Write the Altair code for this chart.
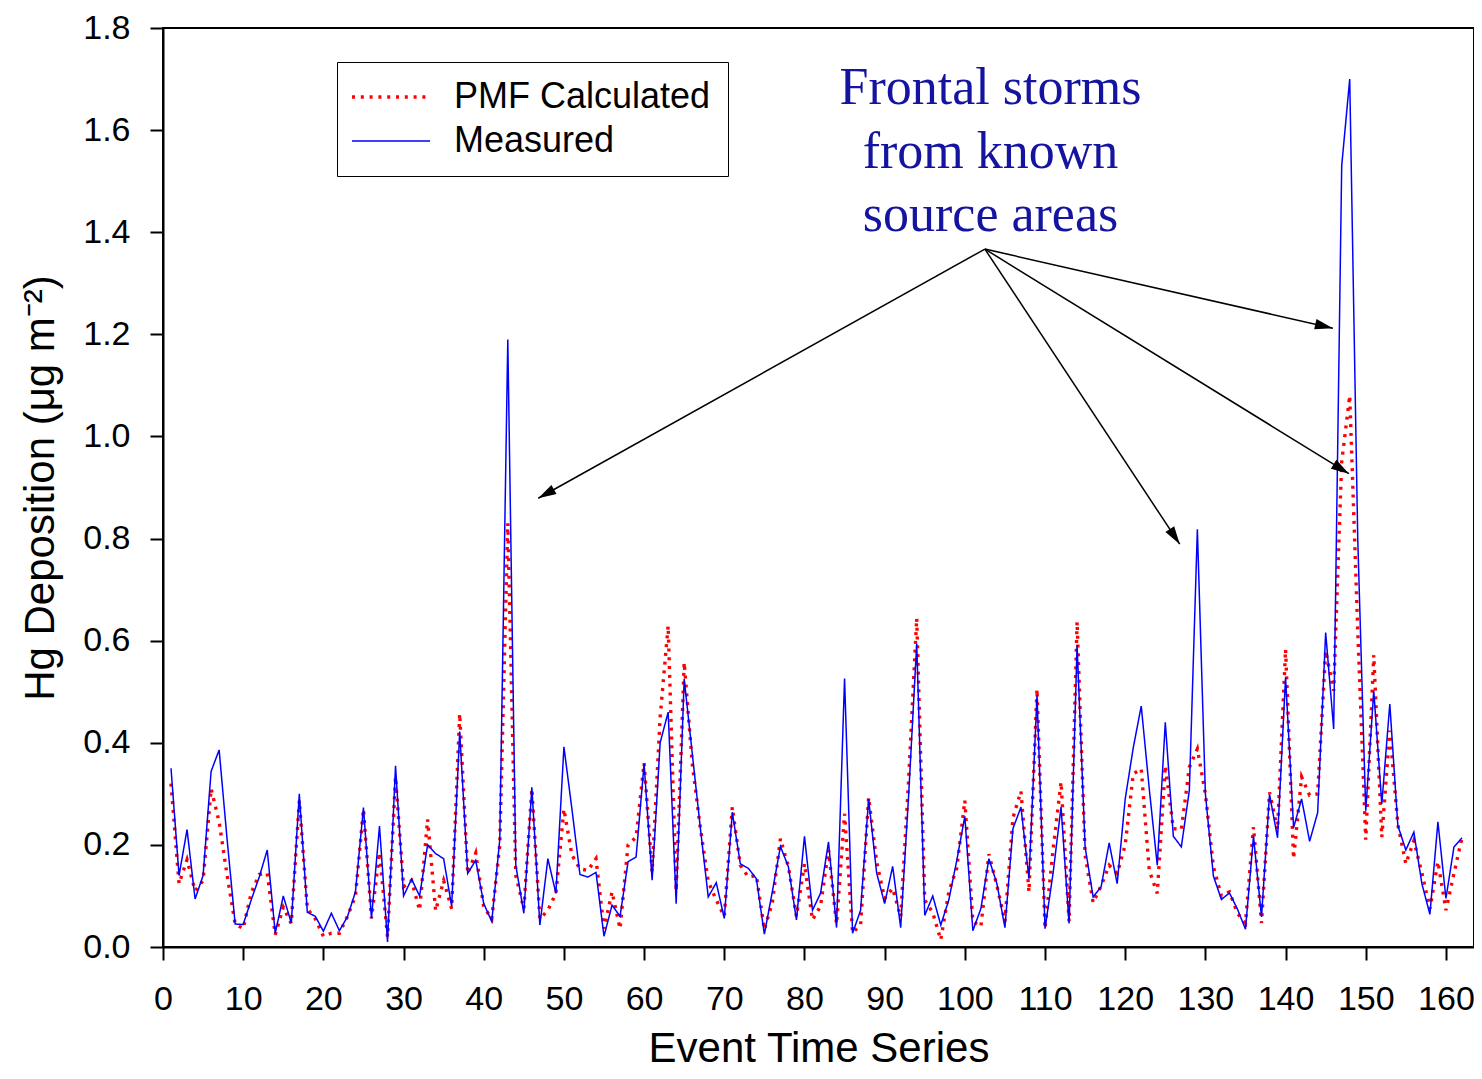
import math
import altair as alt
import pandas as pd

# ---------------- data ----------------
events = list(range(1, 163))

measured = [
    0.35, 0.14, 0.23, 0.094, 0.14, 0.344, 0.386, 0.21, 0.045, 0.044,
    0.092, 0.137, 0.19, 0.027, 0.10, 0.047, 0.30, 0.068, 0.06, 0.031,
    0.066, 0.032, 0.059, 0.108, 0.273, 0.056, 0.237, 0.01, 0.355, 0.10,
    0.133, 0.10, 0.20, 0.183, 0.173, 0.08, 0.422, 0.144, 0.17, 0.085,
    0.05, 0.21, 1.19, 0.16, 0.066, 0.313, 0.043, 0.173, 0.105, 0.392,
    0.27, 0.142, 0.137, 0.146, 0.021, 0.082, 0.06, 0.167, 0.176, 0.359,
    0.131, 0.40, 0.46, 0.085, 0.525, 0.38, 0.235, 0.098, 0.126, 0.056,
    0.264, 0.163, 0.154, 0.134, 0.025, 0.109, 0.197, 0.157, 0.053, 0.217,
    0.072, 0.105, 0.206, 0.038, 0.526, 0.027, 0.072, 0.29, 0.145, 0.085,
    0.158, 0.038, 0.30, 0.594, 0.062, 0.10, 0.043, 0.092, 0.17, 0.256,
    0.032, 0.075, 0.173, 0.124, 0.038, 0.232, 0.274, 0.134, 0.493, 0.036,
    0.144, 0.274, 0.046, 0.591, 0.196, 0.098, 0.118, 0.204, 0.124, 0.29,
    0.39, 0.472, 0.31, 0.16, 0.44, 0.217, 0.196, 0.307, 0.818, 0.30,
    0.139, 0.093, 0.106, 0.074, 0.035, 0.217, 0.059, 0.299, 0.214, 0.528,
    0.234, 0.29, 0.207, 0.263, 0.616, 0.427, 1.53, 1.70, 0.80, 0.267,
    0.502, 0.28, 0.476, 0.238, 0.19, 0.225, 0.124, 0.064, 0.245, 0.095,
    0.196, 0.214,
]

pmf = [
    0.32, 0.124, 0.171, 0.11, 0.13, 0.31, 0.245, 0.14, 0.045, 0.036,
    0.106, 0.142, 0.145, 0.024, 0.078, 0.046, 0.287, 0.075, 0.055, 0.021,
    0.027, 0.027, 0.06, 0.10, 0.27, 0.056, 0.185, 0.02, 0.333, 0.118,
    0.13, 0.072, 0.25, 0.071, 0.13, 0.075, 0.457, 0.144, 0.184, 0.079,
    0.055, 0.20, 0.83, 0.14, 0.075, 0.31, 0.055, 0.072, 0.105, 0.27,
    0.18, 0.153, 0.15, 0.173, 0.036, 0.108, 0.036, 0.20, 0.215, 0.36,
    0.147, 0.45, 0.629, 0.11, 0.557, 0.36, 0.235, 0.128, 0.092, 0.06,
    0.274, 0.16, 0.137, 0.14, 0.034, 0.088, 0.212, 0.157, 0.06, 0.163,
    0.053, 0.08, 0.19, 0.045, 0.261, 0.028, 0.043, 0.293, 0.167, 0.095,
    0.115, 0.059, 0.33, 0.644, 0.092, 0.067, 0.014, 0.108, 0.155, 0.287,
    0.05, 0.04, 0.182, 0.12, 0.05, 0.253, 0.305, 0.108, 0.505, 0.036,
    0.19, 0.323, 0.05, 0.637, 0.18, 0.087, 0.12, 0.16, 0.144, 0.20,
    0.339, 0.349, 0.15, 0.105, 0.355, 0.232, 0.23, 0.352, 0.388, 0.30,
    0.157, 0.10, 0.108, 0.066, 0.047, 0.235, 0.047, 0.303, 0.23, 0.583,
    0.173, 0.333, 0.297, 0.30, 0.58, 0.502, 0.95, 1.08, 0.62, 0.21,
    0.572, 0.215, 0.424, 0.24, 0.163, 0.208, 0.145, 0.075, 0.167, 0.072,
    0.144, 0.214,
]

series_names = ["PMF Calculated", "Measured"]
x_ticks = list(range(0, 161, 10))
y_ticks = [0.0, 0.2, 0.4, 0.6, 0.8, 1.0, 1.2, 1.4, 1.6, 1.8]
annot_lines = ["Frontal storms", "from known", "source areas"]

# annotation geometry (data units)
annot_x = 103.2
annot_y = [1.652, 1.526, 1.402]
arrow_src = (102.5, 1.367)
arrow_targets = [(46.8, 0.879), (145.9, 1.212), (126.8, 0.789), (147.9, 0.927)]

# ---------------- layout ----------------
W, H = 1311, 919
X_MAX, Y_MAX = 163.5, 1.8
px_x = W / X_MAX
px_y = H / Y_MAX
FONT = "Liberation Sans"

xscale = alt.Scale(domain=[0, X_MAX], nice=False, zero=False)
yscale = alt.Scale(domain=[0, Y_MAX], nice=False)
xaxis = alt.Axis(values=x_ticks, title="Event Time Series", labelFlush=False,
                 labelPadding=22, titlePadding=12)
yaxis = alt.Axis(values=y_ticks, format=".1f", labelFlush=False,
                 title="Hg Deposition (μg m⁻²)",
                 labelPadding=20, titlePadding=20)

df = pd.DataFrame({
    "event": events + events,
    "value": pmf + measured,
    "series": [series_names[0]] * len(events) + [series_names[1]] * len(events),
})

legend = alt.Legend(
    title=None, orient="none", legendX=174, legendY=34,
    symbolType="M-2,0H5.8", symbolSize=400, symbolOffset=0,
    labelFontSize=36, labelFont=FONT, labelColor="black", labelOffset=64,
    labelLimit=0, padding=17, rowPadding=8,
    strokeColor="black", fillColor="white",
)

lines = alt.Chart(df).mark_line().encode(
    x=alt.X("event:Q", scale=xscale, axis=xaxis),
    y=alt.Y("value:Q", scale=yscale, axis=yaxis),
    color=alt.Color("series:N", sort=series_names,
                    scale=alt.Scale(domain=series_names, range=["#ff0000", "#0000ff"]),
                    legend=legend),
    strokeDash=alt.StrokeDash("series:N", sort=series_names,
                              scale=alt.Scale(domain=series_names, range=[[3, 5.8], [1, 0]]),
                              legend=legend),
    strokeWidth=alt.StrokeWidth("series:N", sort=series_names,
                                scale=alt.Scale(domain=series_names, range=[3.4, 1.5]),
                                legend=legend),
)

text_df = pd.DataFrame({"x": [annot_x] * 3, "y": annot_y, "text": annot_lines})
texts = alt.Chart(text_df).mark_text(
    font="Liberation Serif", fontSize=52, color="#1414a0",
    align="center", baseline="alphabetic",
).encode(
    x=alt.X("x:Q", scale=xscale, axis=xaxis),
    y=alt.Y("y:Q", scale=yscale, axis=yaxis),
    text="text:N",
)

rows = []
for tx, ty in arrow_targets:
    dx = (tx - arrow_src[0]) * px_x
    dy = -(ty - arrow_src[1]) * px_y
    ang = math.degrees(math.atan2(dx, -dy)) % 360
    rows.append({"x": arrow_src[0], "y": arrow_src[1], "x2": tx, "y2": ty, "angle": ang})
arrow_df = pd.DataFrame(rows)

rules = alt.Chart(arrow_df).mark_rule(color="black", strokeWidth=1.5).encode(
    x=alt.X("x:Q", scale=xscale, axis=xaxis),
    y=alt.Y("y:Q", scale=yscale, axis=yaxis),
    x2="x2:Q", y2="y2:Q",
)

heads = alt.Chart(arrow_df).mark_point(
    shape="M0,0L0.32,1.1L-0.32,1.1Z", size=1070, filled=True,
    color="black", opacity=1, strokeWidth=0,
).encode(
    x=alt.X("x2:Q", scale=xscale, axis=xaxis),
    y=alt.Y("y2:Q", scale=yscale, axis=yaxis),
    angle=alt.Angle("angle:Q", scale=None),
)

chart = alt.layer(lines, rules, heads, texts).properties(
    width=W, height=H,
    autosize=alt.AutoSizeParams(type="none"),
    padding={"left": 155, "top": 20, "right": 0, "bottom": 124},
).configure_view(
    stroke="black", strokeWidth=2,
).configure_axis(
    grid=False, domainColor="black", domainWidth=2,
    tickColor="black", tickWidth=2, tickSize=13,
    labelFont=FONT, labelFontSize=34, labelColor="black",
    titleFont=FONT, titleFontSize=42, titleColor="black", titleFontWeight="normal",
)

chart.save("out.html", embed_options={"renderer": "svg", "actions": False})
